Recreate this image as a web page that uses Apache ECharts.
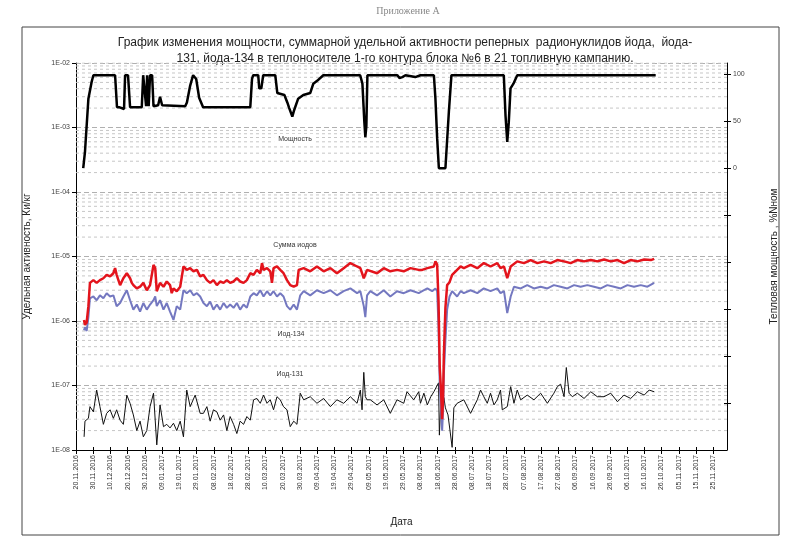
<!DOCTYPE html>
<html><head><meta charset="utf-8">
<script src="https://cdn.jsdelivr.net/npm/echarts@6/dist/echarts.min.js"></script>
<style>html,body{margin:0;padding:0;background:#fff}#c{width:795px;height:542px}</style>
</head><body><div id="c"></div>
<script>
// X tick labels (every 10 days starting 20.11.2016; x value = days since 20.11.2016)
const tickLabels = ['20.11.2016','30.11.2016','10.12.2016','20.12.2016','30.12.2016','09.01.2017','19.01.2017','29.01.2017','08.02.2017','18.02.2017','28.02.2017','10.03.2017','20.03.2017','30.03.2017','09.04.2017','19.04.2017','29.04.2017','09.05.2017','19.05.2017','29.05.2017','08.06.2017','18.06.2017','28.06.2017','08.07.2017','18.07.2017','28.07.2017','07.08.2017','17.08.2017','27.08.2017','06.09.2017','16.09.2017','26.09.2017','06.10.2017','16.10.2017','26.10.2017','05.11.2017','15.11.2017','25.11.2017'];
const leftTickLabels = ['1E-08','1E-07','1E-06','1E-05','1E-04','1E-03','1E-02'];
const rightTickLabels = ['0','50','100'];
const seriesNames = ['Мощность','Сумма иодов','Иод-134','Иод-131'];

// Мощность, %Nном (right axis)
const powerDays = [4.2,5.2,7.2,8.1,9.1,10.1,11,22.7,23.8,25,27.9,28.5,30.2,31.4,38.2,39,40.1,40.7,41.3,42.2,43,44.2,45,47.7,48.8,50,63.4,64.4,66.3,68,69.8,71.5,73.8,101.2,102.2,102.9,105.8,106.4,107.6,108.7,115.7,116.9,121,122.7,123.8,125.6,126.7,129,132,136,137.8,140,143.6,165,166.3,167.4,168,168.6,169.2,186.6,187.8,189.5,191.3,197,200,207.8,208.7,209.7,210.7,214.5,215.5,216.5,218,248.4,249.4,250.4,251.3,252.3,254,256.2,336.6];
const powerVals = [0,17,74,76,92,99,99,99,65,65,63,99,99,65,65,99,99,66,99,66,99,99,66,67,76,67,66,70,88,99,95,75,65,65,95,99,99,85,85,99,99,80,78,70,64,55,62,74,78,80,90,93,99,99,90,50,33,45,99,99,96,97,99,97,99,99,74,32,0,0,30,60,99,99,56,28,49,85,90,99,99];

// Сумма иодов, Ки/кг
const sumDays = [4.65,5.2,6.2,7.2,8.1,9.1,10.1,12.0,13.9,15.9,
 17.8,19.8,21.7,22.7,23.6,25.6,27.5,29.5,31.4,32.4,
 33.3,35.3,37.2,39.1,41.1,43.0,45.0,46.0,46.9,48.8,
 50.8,52.7,54.6,55.6,56.6,58.5,60.5,62.4,64.3,66.3,
 68.2,70.2,72.1,74.0,76.0,77.9,79.8,81.8,83.7,85.7,
 87.6,89.5,91.5,93.4,95.3,97.3,99.2,101.2,103.1,105.0,
 107.0,108.0,108.9,110.9,112.8,113.8,114.7,116.7,118.6,120.5,
 122.5,124.4,126.4,128.3,129.3,132.2,136.0,139.9,143.8,147.7,
 151.5,155.4,159.3,163.2,165.1,167.1,169.0,174.8,178.7,182.5,
 186.4,190.3,194.2,199.0,201.0,204.0,207.8,208.7,209.7,210.5,
 211.2,212.0,212.6,213.1,213.6,214.5,215.5,216.9,218.4,221.3,
 223.3,225.2,229.1,233.0,236.8,240.7,244.6,246.5,248.5,250.4,
 252.4,256.2,260.1,264.0,267.9,271.8,275.6,279.5,283.4,287.2,
 291.1,295.0,298.9,302.7,306.6,310.5,314.4,318.2,322.1,326.0,
 329.9,333.8,335.7];
const sumVals = [1.04e-6,8.7e-7,9.5e-7,1.7e-6,3.9e-6,4.1e-6,4.3e-6,3.9e-6,4.3e-6,4.6e-6,
 5.2e-6,4.9e-6,5.5e-6,6.6e-6,5.2e-6,3.6e-6,4.6e-6,5.5e-6,4.6e-6,3.9e-6,
 3.6e-6,3.2e-6,3.4e-6,3.9e-6,3.0e-6,3.6e-6,7.4e-6,6.6e-6,2.9e-6,3.9e-6,
 3.4e-6,4.1e-6,3.6e-6,2.7e-6,3.2e-6,2.9e-6,3.4e-6,7.0e-6,6.2e-6,6.6e-6,
 5.9e-6,6.2e-6,4.9e-6,5.2e-6,4.3e-6,3.9e-6,4.3e-6,3.6e-6,4.1e-6,3.9e-6,
 4.3e-6,3.9e-6,4.1e-6,4.6e-6,4.1e-6,3.9e-6,4.3e-6,5.5e-6,5.2e-6,6.2e-6,
 5.5e-6,7.9e-6,6.2e-6,6.6e-6,5.9e-6,3.9e-6,6.6e-6,7.0e-6,6.2e-6,5.5e-6,
 4.3e-6,3.6e-6,3.4e-6,3.6e-6,6.2e-6,6.6e-6,5.9e-6,7.0e-6,5.9e-6,6.6e-6,
 5.5e-6,6.6e-6,7.9e-6,7.0e-6,6.6e-6,4.6e-6,6.2e-6,5.5e-6,6.6e-6,5.9e-6,
 6.2e-6,5.9e-6,6.6e-6,6.2e-6,6.2e-6,6.6e-6,7.0e-6,8.4e-6,7.5e-6,2.0e-6,
 1.9e-7,8.0e-8,3.0e-8,6.0e-8,3.0e-7,1.6e-6,3.6e-6,4.0e-6,5.2e-6,6.2e-6,
 7.0e-6,6.6e-6,7.4e-6,6.6e-6,7.9e-6,7.0e-6,7.9e-6,6.6e-6,7.0e-6,4.6e-6,
 7.0e-6,8.4e-6,7.9e-6,8.8e-6,7.9e-6,8.4e-6,7.9e-6,8.8e-6,8.4e-6,7.9e-6,
 8.8e-6,8.4e-6,8.8e-6,8.4e-6,9.0e-6,8.4e-6,8.8e-6,7.9e-6,8.8e-6,8.4e-6,
 9.0e-6,8.8e-6,9.2e-6];

// Иод-134, Ки/кг
const i134Days = [4.65,5.2,6.2,7.2,8.1,10.1,12.0,13.9,15.9,17.8,
 19.8,21.7,23.6,25.6,27.5,29.5,31.4,33.3,35.3,37.2,
 39.1,41.1,43.0,45.0,46.0,46.9,48.8,50.8,52.7,54.6,
 56.6,58.5,60.5,62.4,64.3,66.3,68.2,70.2,72.1,74.0,
 76.0,77.9,79.8,81.8,83.7,85.7,87.6,89.5,91.5,93.4,
 95.3,97.3,99.2,101.2,103.1,105.0,107.0,108.9,110.9,112.8,
 114.7,116.7,118.6,120.5,122.5,124.4,126.4,128.3,130.2,132.2,
 136.0,139.9,143.8,147.7,151.5,155.4,159.3,163.2,165.1,167.1,
 168.0,169.0,170.9,174.8,178.7,182.5,186.4,190.3,194.2,199.0,
 201.0,204.0,206.8,208.7,209.7,210.5,211.2,212.0,212.6,213.1,
 213.6,214.5,215.5,216.9,218.4,221.3,223.3,225.2,229.1,233.0,
 236.8,240.7,244.6,246.5,248.5,250.4,252.4,254.3,258.2,262.0,
 265.9,269.8,273.7,277.5,281.4,285.3,289.2,293.0,296.9,300.8,
 304.7,308.5,312.4,316.3,320.2,324.0,327.9,331.8,335.7];
const i134Vals = [7.2e-7,8.0e-7,7.0e-7,1.15e-6,2.25e-6,2.4e-6,2.1e-6,2.5e-6,2.25e-6,2.7e-6,
 2.4e-6,2.5e-6,1.7e-6,1.9e-6,2.4e-6,3.0e-6,2.1e-6,1.5e-6,1.8e-6,1.4e-6,
 1.9e-6,1.5e-6,1.8e-6,2.1e-6,2.4e-6,1.7e-6,2.1e-6,1.5e-6,1.9e-6,1.4e-6,
 1.04e-6,1.7e-6,1.5e-6,3.0e-6,2.7e-6,3.0e-6,2.5e-6,2.7e-6,2.4e-6,1.9e-6,
 1.7e-6,2.0e-6,1.5e-6,1.8e-6,1.5e-6,1.9e-6,1.6e-6,1.8e-6,1.6e-6,1.9e-6,
 1.5e-6,1.8e-6,1.6e-6,2.4e-6,2.7e-6,2.5e-6,3.0e-6,2.4e-6,2.9e-6,2.5e-6,
 2.9e-6,2.4e-6,2.7e-6,2.4e-6,1.7e-6,1.5e-6,1.8e-6,1.5e-6,2.5e-6,2.9e-6,
 2.5e-6,3.0e-6,2.7e-6,3.0e-6,2.5e-6,2.9e-6,3.2e-6,2.7e-6,2.9e-6,1.7e-6,
 1.15e-6,2.5e-6,2.9e-6,2.5e-6,3.0e-6,2.4e-6,2.9e-6,2.7e-6,3.0e-6,2.7e-6,
 2.9e-6,3.2e-6,2.9e-6,3.2e-6,2.9e-6,8.0e-7,1.0e-7,4.0e-8,2.0e-8,4.0e-8,
 1.5e-7,5.0e-7,1.5e-6,2.4e-6,2.9e-6,2.4e-6,2.9e-6,2.7e-6,3.0e-6,2.7e-6,
 3.2e-6,2.9e-6,3.2e-6,2.7e-6,2.9e-6,1.33e-6,2.4e-6,3.4e-6,3.2e-6,3.6e-6,
 3.2e-6,3.4e-6,3.2e-6,3.6e-6,3.4e-6,3.2e-6,3.6e-6,3.4e-6,3.6e-6,3.4e-6,
 3.2e-6,3.6e-6,3.4e-6,3.2e-6,3.6e-6,3.4e-6,3.6e-6,3.4e-6,3.9e-6];

// Иод-131, Ки/кг
const i131Days = [4.7,5.2,7.2,8.1,10.1,12.0,13.9,15.9,17.8,19.8,
 21.7,23.6,25.6,27.5,29.5,31.4,33.3,35.3,37.2,39.1,
 41.1,43.0,45.0,46.9,48.8,50.8,52.7,54.6,56.6,58.5,
 60.5,62.4,64.3,66.3,69.2,72.1,74.0,76.0,77.9,79.8,
 81.8,83.7,85.7,87.6,89.5,91.5,93.4,95.3,97.3,99.2,
 101.2,103.1,105.0,107.0,108.9,110.9,112.8,114.7,116.7,118.6,
 120.5,122.5,124.4,126.4,128.3,130.2,132.2,136.0,139.9,143.8,
 147.7,151.5,155.4,159.3,163.2,165.1,166.1,167.1,168.0,169.0,
 170.9,174.8,178.7,182.5,186.4,190.3,192.2,196.1,199.0,200.0,
 202.0,204.0,206.0,207.8,210.5,211.0,212.0,212.6,213.6,214.5,
 216.0,218.4,219.4,221.3,225.2,229.1,233.0,234.9,236.8,238.8,
 240.7,242.7,244.6,246.5,247.5,250.4,252.4,254.3,256.2,258.2,
 262.0,265.9,269.8,273.7,277.5,279.5,281.4,283.4,284.7,286.3,
 288.2,291.1,295.0,298.9,302.7,306.6,310.5,314.4,318.2,322.1,
 326.0,329.9,332.8,335.7];
const i131Vals = [1.6e-8,2.8e-8,3.1e-8,4.7e-8,3.9e-8,8.5e-8,4.7e-8,2.5e-8,3.7e-8,4.2e-8,
 3.1e-8,4.2e-8,2.9e-8,2.5e-8,7.1e-8,5.3e-8,3.5e-8,2.0e-8,2.8e-8,1.6e-8,
 2.0e-8,4.7e-8,7.6e-8,1.2e-8,5.0e-8,2.3e-8,2.5e-8,2.2e-8,2.6e-8,2.0e-8,
 2.8e-8,1.6e-8,8.5e-8,4.7e-8,7.1e-8,3.7e-8,3.7e-8,4.7e-8,2.8e-8,4.2e-8,
 3.9e-8,2.9e-8,3.5e-8,2.0e-8,3.3e-8,2.5e-8,1.8e-8,2.8e-8,2.5e-8,3.3e-8,
 2.9e-8,6.0e-8,6.3e-8,5.3e-8,7.1e-8,5.3e-8,6.0e-8,4.2e-8,6.7e-8,6.0e-8,
 4.7e-8,4.2e-8,2.3e-8,2.8e-8,2.5e-8,7.6e-8,6.0e-8,6.7e-8,5.3e-8,6.3e-8,
 4.7e-8,6.0e-8,5.3e-8,6.7e-8,5.3e-8,8.5e-8,4.2e-8,1.6e-7,6.7e-8,6.0e-8,
 6.0e-8,5.0e-8,6.0e-8,3.7e-8,6.0e-8,5.3e-8,8.0e-8,6.0e-8,8.0e-8,5.3e-8,
 7.6e-8,5.0e-8,6.7e-8,8.0e-8,1.1e-7,1.7e-8,7.0e-8,3.0e-8,6.5e-8,4.5e-8,
 3.5e-8,1.1e-8,4.5e-8,5.3e-8,6.0e-8,3.7e-8,6.0e-8,8.5e-8,6.7e-8,5.3e-8,
 7.6e-8,5.0e-8,6.0e-8,8.5e-8,4.2e-8,4.7e-8,9.6e-8,5.3e-8,8.5e-8,6.0e-8,
 7.1e-8,6.0e-8,7.6e-8,5.3e-8,7.6e-8,9.6e-8,1.05e-7,6.7e-8,1.9e-7,7.6e-8,
 6.7e-8,7.6e-8,6.3e-8,8.0e-8,6.7e-8,6.7e-8,7.6e-8,5.6e-8,7.1e-8,6.3e-8,
 8.0e-8,7.1e-8,8.5e-8,8.0e-8];

const zip = (d, v) => d.map((x, i) => [x, v[i]]);

// minor log grid values (2..9 x 10^n) + top edge, drawn as broken horizontal segments
const X_MIN = 0, X_MAX = 378;
const minorGridVals = [1e-2];
for (let e = -8; e <= -3; e++) for (let k = 2; k <= 9; k++) minorGridVals.push(k * Math.pow(10, e));
const minorGridData = [];
minorGridVals.forEach(v => { minorGridData.push([X_MIN, v], [X_MAX, v], [X_MAX, '-']); });
const xTickVals = tickLabels.map((_, i) => i * 10);
const rightTickVals = [-250, -200, -150, -100, -50, 0, 50, 100];

const FONT = 'Liberation Sans';
const chart = echarts.init(document.getElementById('c'), null, {renderer: 'canvas'});
chart.setOption({
  animation: false,
  backgroundColor: '#fff',
  textStyle: {fontFamily: FONT},
  grid: {left: 76, right: 68, top: 63, bottom: 92},
  xAxis: [{
    type: 'value', min: X_MIN, max: X_MAX,
    axisLine: {onZero: false, lineStyle: {color: '#000', width: 1}},
    axisTick: {customValues: xTickVals, length: 4, lineStyle: {color: '#000'}},
    axisLabel: {customValues: xTickVals, rotate: 90, fontSize: 7, color: '#333', margin: 5,
      formatter: v => tickLabels[Math.round(v / 10)] || ''},
    splitLine: {show: false},
    name: 'Дата', nameLocation: 'middle', nameGap: 67,
    nameTextStyle: {fontSize: 10, color: '#222', fontFamily: FONT}
  }, {
    type: 'value', min: X_MIN, max: X_MAX, position: 'bottom',
    axisLine: {show: false, onZero: false},
    axisTick: {show: true, inside: true, customValues: xTickVals, length: 3, lineStyle: {color: '#000'}},
    axisLabel: {show: false}, splitLine: {show: false}
  }],
  yAxis: [{
    type: 'log', logBase: 10, min: 1e-8, max: 1e-2, splitNumber: 6,
    axisLine: {show: true, onZero: false, lineStyle: {color: '#000', width: 1}},
    axisTick: {show: true, length: 4, lineStyle: {color: '#000'}},
    axisLabel: {fontSize: 7, color: '#444', margin: 6,
      formatter: v => leftTickLabels[Math.round(Math.log10(v)) + 8] || ''},
    splitLine: {show: true, lineStyle: {color: '#b0b0b0', type: [5, 3], width: 1}},
    name: 'Удельная активность, Ки/кг', nameLocation: 'middle', nameGap: 44, nameRotate: 90,
    nameTextStyle: {fontSize: 10, color: '#222', fontFamily: FONT}
  }, {
    type: 'value', position: 'right', min: -300, max: 112,
    axisLine: {show: true, onZero: false, lineStyle: {color: '#000', width: 1}},
    axisTick: {show: true, customValues: rightTickVals, length: 4, lineStyle: {color: '#000'}},
    axisLabel: {customValues: [0, 50, 100], fontSize: 7, color: '#444', margin: 6,
      formatter: v => rightTickLabels[Math.round(v / 50)] || ''},
    splitLine: {show: false},
    name: 'Тепловая мощность , %Nном', nameLocation: 'middle', nameGap: 42, nameRotate: 90,
    nameTextStyle: {fontSize: 10, color: '#222', fontFamily: FONT}
  }, {
    type: 'value', position: 'right', min: -300, max: 112,
    axisLine: {show: false, onZero: false},
    axisTick: {show: true, inside: true, customValues: rightTickVals, length: 3, lineStyle: {color: '#000'}},
    axisLabel: {show: false}, splitLine: {show: false}
  }],
  series: [
    {type: 'line', name: 'minor grid', yAxisIndex: 0, data: minorGridData, showSymbol: false, silent: true,
      connectNulls: false, lineStyle: {color: '#c6c6c6', type: [3, 3], width: 1}, z: 1},
    {type: 'line', name: seriesNames[3], yAxisIndex: 0, data: zip(i131Days, i131Vals), showSymbol: false,
      lineStyle: {color: '#111', width: 1}, z: 3},
    {type: 'line', name: seriesNames[2], yAxisIndex: 0, data: zip(i134Days, i134Vals), showSymbol: false,
      lineStyle: {color: '#7478c0', width: 2}, z: 3},
    {type: 'line', name: seriesNames[1], yAxisIndex: 0, data: zip(sumDays, sumVals), showSymbol: false,
      lineStyle: {color: '#e3141c', width: 2.5}, z: 4},
    {type: 'line', name: seriesNames[0], yAxisIndex: 1, data: zip(powerDays, powerVals), showSymbol: false,
      lineStyle: {color: '#000', width: 2.5}, z: 5}
  ],
  graphic: [
    {type: 'rect', shape: {x: 22, y: 27, width: 757, height: 508}, style: {fill: null, stroke: '#444', lineWidth: 1}, silent: true, z: 0},
    {type: 'text', x: 408, y: 6, style: {text: 'Приложение А', font: '10px "Liberation Serif"', fill: '#888', textAlign: 'center'}},
    {type: 'text', x: 405, y: 35, style: {text: 'График изменения мощности, суммарной удельной активности реперных  радионуклидов йода,  йода-\n131, йода-134 в теплоносителе 1-го контура блока №6 в 21 топливную кампанию.', font: '12px "Liberation Sans"', fill: '#222', textAlign: 'center', lineHeight: 16}},
    {type: 'text', x: 295, y: 134, z: 10, style: {text: seriesNames[0], font: '7px "Liberation Sans"', fill: '#333', textAlign: 'center', backgroundColor: '#fff', padding: [2, 4]}},
    {type: 'text', x: 295, y: 240, z: 10, style: {text: seriesNames[1], font: '7px "Liberation Sans"', fill: '#333', textAlign: 'center', backgroundColor: '#fff', padding: [2, 4]}},
    {type: 'text', x: 291, y: 329, z: 10, style: {text: seriesNames[2], font: '7px "Liberation Sans"', fill: '#333', textAlign: 'center', backgroundColor: '#fff', padding: [2, 4]}},
    {type: 'text', x: 290, y: 369, z: 10, style: {text: seriesNames[3], font: '7px "Liberation Sans"', fill: '#333', textAlign: 'center', backgroundColor: '#fff', padding: [2, 4]}}
  ]
});
</script></body></html>
